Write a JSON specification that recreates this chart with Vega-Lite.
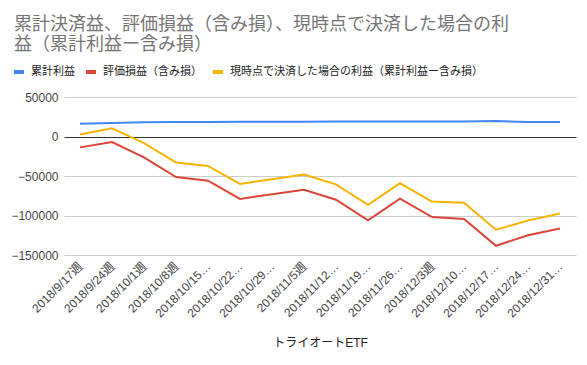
{
  "$schema": "https://vega.github.io/schema/vega-lite/v6.json",
  "autosize": "none",
  "width": 512,
  "height": 158,
  "padding": {"left": 64, "top": 97, "right": 11, "bottom": 110},
  "background": "white",
  "config": {
    "font": "Arial, Liberation Sans, Noto Sans CJK JP, sans-serif",
    "view": {"stroke": null}
  },
  "title": {
    "text": ["累計決済益、評価損益（含み損）、現時点で決済した場合の利", "益（累計利益ー含み損）"],
    "anchor": "start",
    "frame": "group",
    "dx": -50,
    "fontSize": 18,
    "fontWeight": "normal",
    "color": "#757575",
    "lineHeight": 20,
    "offset": 11
  },
  "data": {
    "values": [
      {"week": "2018/9/17週", "series": "累計利益", "value": 16000},
      {"week": "2018/9/24週", "series": "累計利益", "value": 17000},
      {"week": "2018/10/1週", "series": "累計利益", "value": 18000},
      {"week": "2018/10/8週", "series": "累計利益", "value": 18500},
      {"week": "2018/10/15週", "series": "累計利益", "value": 18500},
      {"week": "2018/10/22週", "series": "累計利益", "value": 18700},
      {"week": "2018/10/29週", "series": "累計利益", "value": 18700},
      {"week": "2018/11/5週", "series": "累計利益", "value": 18800},
      {"week": "2018/11/12週", "series": "累計利益", "value": 19000},
      {"week": "2018/11/19週", "series": "累計利益", "value": 19000},
      {"week": "2018/11/26週", "series": "累計利益", "value": 19000},
      {"week": "2018/12/3週", "series": "累計利益", "value": 19000},
      {"week": "2018/12/10週", "series": "累計利益", "value": 19000},
      {"week": "2018/12/17週", "series": "累計利益", "value": 19500},
      {"week": "2018/12/24週", "series": "累計利益", "value": 18500},
      {"week": "2018/12/31週", "series": "累計利益", "value": 18500},
      {"week": "2018/9/17週", "series": "評価損益（含み損）", "value": -13750},
      {"week": "2018/9/24週", "series": "評価損益（含み損）", "value": -7100},
      {"week": "2018/10/1週", "series": "評価損益（含み損）", "value": -26500},
      {"week": "2018/10/8週", "series": "評価損益（含み損）", "value": -51250},
      {"week": "2018/10/15週", "series": "評価損益（含み損）", "value": -56000},
      {"week": "2018/10/22週", "series": "評価損益（含み損）", "value": -79000},
      {"week": "2018/10/29週", "series": "評価損益（含み損）", "value": -73000},
      {"week": "2018/11/5週", "series": "評価損益（含み損）", "value": -67500},
      {"week": "2018/11/12週", "series": "評価損益（含み損）", "value": -80000},
      {"week": "2018/11/19週", "series": "評価損益（含み損）", "value": -106000},
      {"week": "2018/11/26週", "series": "評価損益（含み損）", "value": -78750},
      {"week": "2018/12/3週", "series": "評価損益（含み損）", "value": -102000},
      {"week": "2018/12/10週", "series": "評価損益（含み損）", "value": -104500},
      {"week": "2018/12/17週", "series": "評価損益（含み損）", "value": -138300},
      {"week": "2018/12/24週", "series": "評価損益（含み損）", "value": -125000},
      {"week": "2018/12/31週", "series": "評価損益（含み損）", "value": -116500},
      {"week": "2018/9/17週", "series": "現時点で決済した場合の利益（累計利益ー含み損）", "value": 2500},
      {"week": "2018/9/24週", "series": "現時点で決済した場合の利益（累計利益ー含み損）", "value": 10400},
      {"week": "2018/10/1週", "series": "現時点で決済した場合の利益（累計利益ー含み損）", "value": -8500},
      {"week": "2018/10/8週", "series": "現時点で決済した場合の利益（累計利益ー含み損）", "value": -32800},
      {"week": "2018/10/15週", "series": "現時点で決済した場合の利益（累計利益ー含み損）", "value": -37200},
      {"week": "2018/10/22週", "series": "現時点で決済した場合の利益（累計利益ー含み損）", "value": -60000},
      {"week": "2018/10/29週", "series": "現時点で決済した場合の利益（累計利益ー含み損）", "value": -54000},
      {"week": "2018/11/5週", "series": "現時点で決済した場合の利益（累計利益ー含み損）", "value": -48200},
      {"week": "2018/11/12週", "series": "現時点で決済した場合の利益（累計利益ー含み損）", "value": -60500},
      {"week": "2018/11/19週", "series": "現時点で決済した場合の利益（累計利益ー含み損）", "value": -86500},
      {"week": "2018/11/26週", "series": "現時点で決済した場合の利益（累計利益ー含み損）", "value": -59200},
      {"week": "2018/12/3週", "series": "現時点で決済した場合の利益（累計利益ー含み損）", "value": -82300},
      {"week": "2018/12/10週", "series": "現時点で決済した場合の利益（累計利益ー含み損）", "value": -83800},
      {"week": "2018/12/17週", "series": "現時点で決済した場合の利益（累計利益ー含み損）", "value": -118000},
      {"week": "2018/12/24週", "series": "現時点で決済した場合の利益（累計利益ー含み損）", "value": -106300},
      {"week": "2018/12/31週", "series": "現時点で決済した場合の利益（累計利益ー含み損）", "value": -97500}
    ]
  },
  "mark": {"type": "line", "strokeWidth": 2},
  "encoding": {
    "x": {
      "field": "week",
      "type": "ordinal",
      "sort": null,
      "scale": {"type": "point", "padding": 0.5},
      "axis": {
        "title": "トライオートETF",
        "titleFont": "Arial, Liberation Sans, Noto Sans CJK JP, sans-serif",
        "titleFontSize": 12,
        "titleFontWeight": "normal",
        "titleColor": "#222222",
        "titlePadding": 18,
        "labelAngle": -45,
        "labelAlign": "right",
        "labelBaseline": "middle",
        "labelFontSize": 12,
        "labelColor": "#444444",
        "labelLimit": 200,
        "labelExpr": "length(datum.label) > 10 ? substring(datum.label, 0, 10) + '…' : datum.label",
        "labelPadding": 9,
        "ticks": false,
        "domain": false,
        "grid": false
      }
    },
    "y": {
      "field": "value",
      "type": "quantitative",
      "scale": {"domain": [-150000, 50000], "nice": false, "zero": false},
      "axis": {
        "title": null,
        "values": [50000, 0, -50000, -100000, -150000],
        "format": "d",
        "labelFontSize": 12,
        "labelColor": "#444444",
        "labelPadding": 6,
        "ticks": false,
        "domain": false,
        "grid": true,
        "gridColor": {"condition": {"test": "datum.value === 0", "value": "#333333"}, "value": "#cccccc"},
        "gridWidth": 1
      }
    },
    "color": {
      "field": "series",
      "type": "nominal",
      "scale": {
        "domain": ["累計利益", "評価損益（含み損）", "現時点で決済した場合の利益（累計利益ー含み損）"],
        "range": ["#4285F4", "#DB4437", "#F4B400"]
      },
      "legend": {
        "title": null,
        "orient": "none",
        "direction": "horizontal",
        "legendX": -52,
        "legendY": -32,
        "symbolType": "stroke",
        "symbolSize": 100,
        "symbolStrokeWidth": 4,
        "labelFontSize": 11,
        "labelColor": "#222222",
        "labelOffset": 5,
        "columnPadding": 3,
        "labelLimit": 400
      }
    }
  }
}
